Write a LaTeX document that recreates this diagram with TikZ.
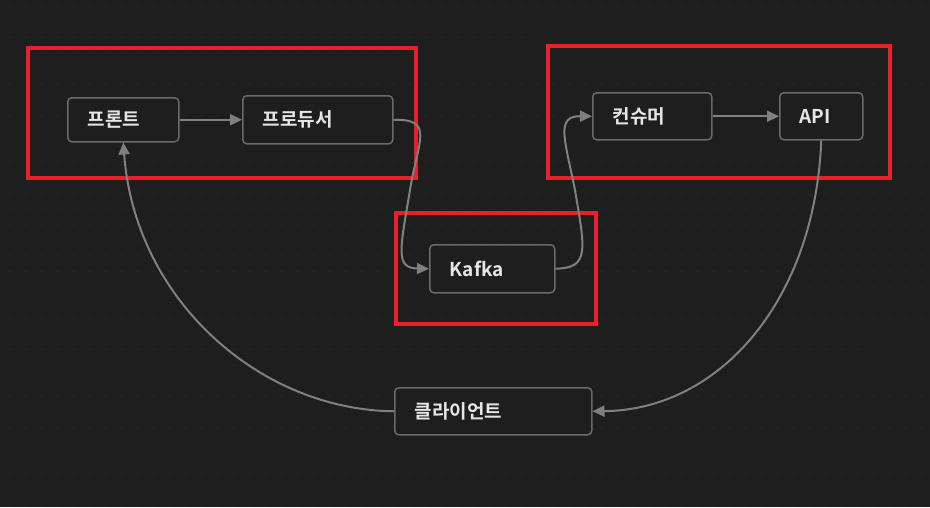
\documentclass[tikz,border=0pt]{standalone}
\usepackage{fontspec}
\setmainfont{Noto Sans CJK KR}[BoldFont={Noto Sans CJK KR Bold}]
\usetikzlibrary{arrows.meta}
\definecolor{bg}{HTML}{1E1E1E}
\definecolor{dotc}{HTML}{2C2C2C}
\definecolor{edgec}{HTML}{808080}
\definecolor{boxc}{HTML}{6A6A6A}
\definecolor{redc}{HTML}{E8202A}
\definecolor{txt}{HTML}{E6E6E6}
\begin{document}
\begin{tikzpicture}[x=1pt,y=-1pt,
  box/.style={draw=boxc, line width=1.5pt, rounded corners=4pt, fill=bg,
    text=txt, font=\fontsize{19}{22}\selectfont\bfseries, align=left,
    inner xsep=20pt, inner ysep=0pt, anchor=north west},
  conn/.style={draw=edgec, line width=2pt},
  arr/.style={conn, -{Triangle[length=12pt,width=11pt]}},
  group/.style={draw=redc, line width=4pt}]
\fill[bg] (0,0) rectangle (930,507);
\useasboundingbox (0,0) rectangle (930,507);
\foreach \i in {0,...,58}{
  \foreach \j in {0,...,32}{
    \fill[dotc] (10+16*\i, 6+15.6*\j) circle (0.8);
  }
}
% nodes
\node[box, text width=71pt, minimum height=44pt] (front) at (67,97) {프론트};
\node[box, text width=110pt, minimum height=48pt] (prod) at (242,95) {프로듀서};
\node[box, text width=79pt, minimum height=47pt] (cons) at (592,92) {컨슈머};
\node[box, text width=43pt, minimum height=47pt] (api) at (779,92) {API};
\node[box, text width=85pt, minimum height=48pt] (kafka) at (429,244) {Kafka};
\node[box, text width=157pt, minimum height=47pt] (client) at (394,387) {클라이언트};
% groups
\draw[group] (28,48) rectangle (416,178);
\draw[group] (548,46) rectangle (890,178);
\draw[group] (396,213) rectangle (596,324);
% connectors
\draw[arr] (front.east) -- (prod.west |- front.east);
\draw[arr] (prod.east) .. controls (435,119) and (418,140) .. (410,190)
   .. controls (400,250) and (395,268) .. (kafka.west);
\draw[arr] (kafka.east) .. controls (590,268) and (585,250) .. (575,190)
   .. controls (565,140) and (555,116) .. (cons.west);
\draw[arr] (cons.east) -- (api.west |- cons.east);
\draw[arr] (api.south) .. controls (815,300) and (720,410) .. (client.east);
\draw[arr] (client.west) .. controls (260,410) and (135,300) .. (front.south);
\end{tikzpicture}
\end{document}
